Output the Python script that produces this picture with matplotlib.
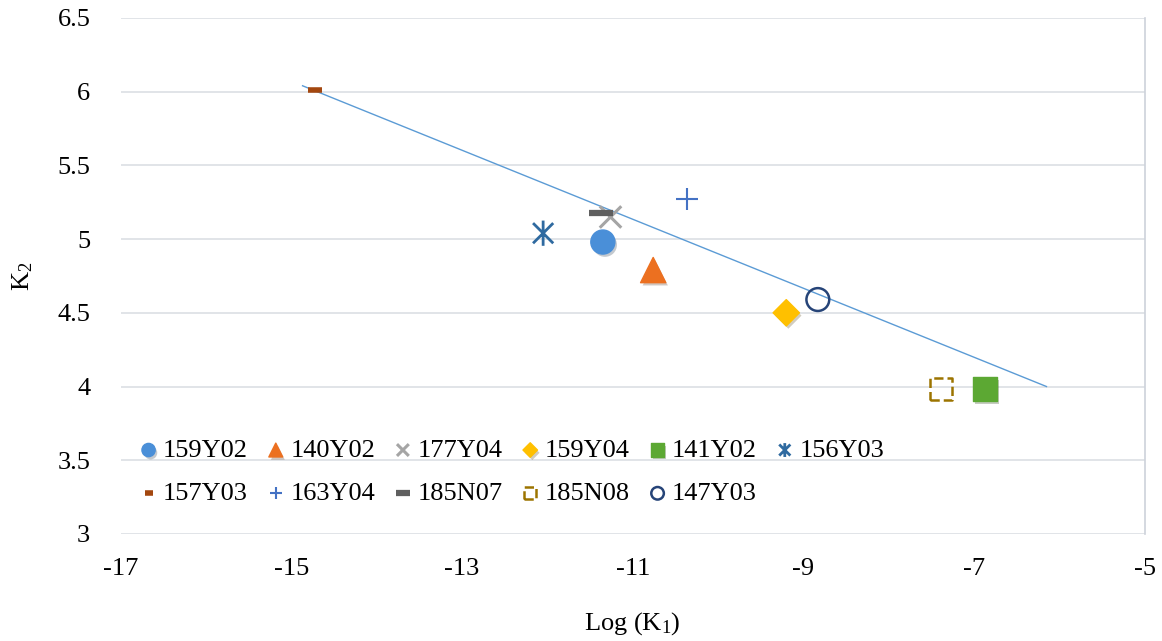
import matplotlib
matplotlib.use("Agg")
import matplotlib.pyplot as plt
import matplotlib.patheffects as pe
from matplotlib.path import Path

plt.rcParams['font.family'] = ['Liberation Serif', 'DejaVu Serif']
plt.rcParams['mathtext.default'] = 'regular'
plt.rcParams['axes.unicode_minus'] = False

# samples: log(K1), K2
names = ["159Y02", "140Y02", "177Y04", "159Y04", "141Y02", "156Y03",
         "157Y03", "163Y04", "185N07", "185N08", "147Y03"]
log_k1 = [-11.35, -10.76, -11.26, -9.20, -6.87, -12.05,
          -14.72, -10.36, -11.37, -7.39, -8.83]
k2 = [4.98, 4.79, 5.15, 4.50, 3.98, 5.04,
      6.01, 5.27, 5.18, 3.98, 4.59]

# linear trend line end points
trend_x = [-14.87, -6.15]
trend_y = [6.04, 4.00]

star = Path([(-1, -1), (1, 1), (-1, 1), (1, -1), (0, -1.25), (0, 1.25)],
            [Path.MOVETO, Path.LINETO, Path.MOVETO, Path.LINETO, Path.MOVETO, Path.LINETO])

# marker, size, facecolor, edgecolor, linewidth, linestyle, shadow
styles = [
    ('o', 300, '#4a8fd8', '#4a8fd8', 1, '-', True),
    ('^', 330, '#ec7020', '#ec7020', 1, '-', True),
    ('x', 240, '#a5a5a5', None, 2.2, '-', True),
    ('D', 180, '#ffc000', '#ffc000', 1, '-', True),
    ('s', 300, '#5ca833', '#5ca833', 1, '-', True),
    (star, 330, 'none', '#2f6aa0', 2.0, '-', True),
    ('_', 100, '#a3470f', None, 4, '-', False),
    ('+', 260, '#4472c4', None, 1.5, '-', False),
    ('_', 300, '#5f5f5f', None, 4.5, '-', False),
    ('s', 250, 'none', '#9c7400', 1.8, '--', False),
    ('o', 270, 'none', '#264478', 1.8, '-', False),
]

fig, ax = plt.subplots(figsize=(11.62, 6.41), dpi=100)
fig.subplots_adjust(left=0.104, right=0.985, top=0.972, bottom=0.167)

ax.plot(trend_x, trend_y, color='#5b9bd5', lw=1.0, zorder=2)

handles = []
for i in range(len(names)):
    m, s, fc, ec, lw, ls, shadow = styles[i]
    if ec is None:
        h = ax.scatter(log_k1[i], k2[i], marker=m, s=s, color=fc,
                       linewidths=lw, zorder=3, label=names[i])
    else:
        h = ax.scatter(log_k1[i], k2[i], marker=m, s=s, facecolors=fc, edgecolors=ec,
                       linewidths=lw, linestyle=ls, zorder=3, label=names[i])
    if shadow:
        h.set_path_effects([pe.SimplePatchShadow(offset=(1.5, -2), alpha=0.25), pe.Normal()])
    handles.append(h)

ax.set_xlim(-17, -5)
ax.set_ylim(3, 6.5)
ax.set_xticks(range(-17, -4, 2))
ax.set_xticklabels([str(v) for v in range(-17, -4, 2)])
yt = [3, 3.5, 4, 4.5, 5, 5.5, 6, 6.5]
ax.set_yticks(yt)
ax.set_yticklabels(['3', '3.5', '4', '4.5', '5', '5.5', '6', '6.5'])
ax.tick_params(length=0, labelsize=19)
ax.tick_params(axis='x', pad=17)
ax.tick_params(axis='y', pad=22)
ax.grid(axis='y', color='#dcdfe4', lw=1.2)
ax.set_axisbelow(True)
for sp in ['left', 'top', 'bottom']:
    ax.spines[sp].set_visible(False)
ax.spines['right'].set_color('#cdd2da')
ax.spines['right'].set_linewidth(1.2)

ax.set_xlabel('Log (K$_1$)', fontsize=19, labelpad=22)
ax.set_ylabel('K$_2$', fontsize=19, labelpad=16)

# reorder so the legend reads row by row
order = [0, 6, 1, 7, 2, 8, 3, 9, 4, 10, 5]
leg = ax.legend([handles[i] for i in order], [names[i] for i in order], ncol=6,
                loc='lower left', bbox_to_anchor=(0.0, 0.025), frameon=False,
                fontsize=19, markerscale=0.55, handletextpad=0.1, columnspacing=0.6,
                handlelength=0.9, labelspacing=0.75, borderaxespad=0.2)

fig.savefig('out.png', dpi=100)
